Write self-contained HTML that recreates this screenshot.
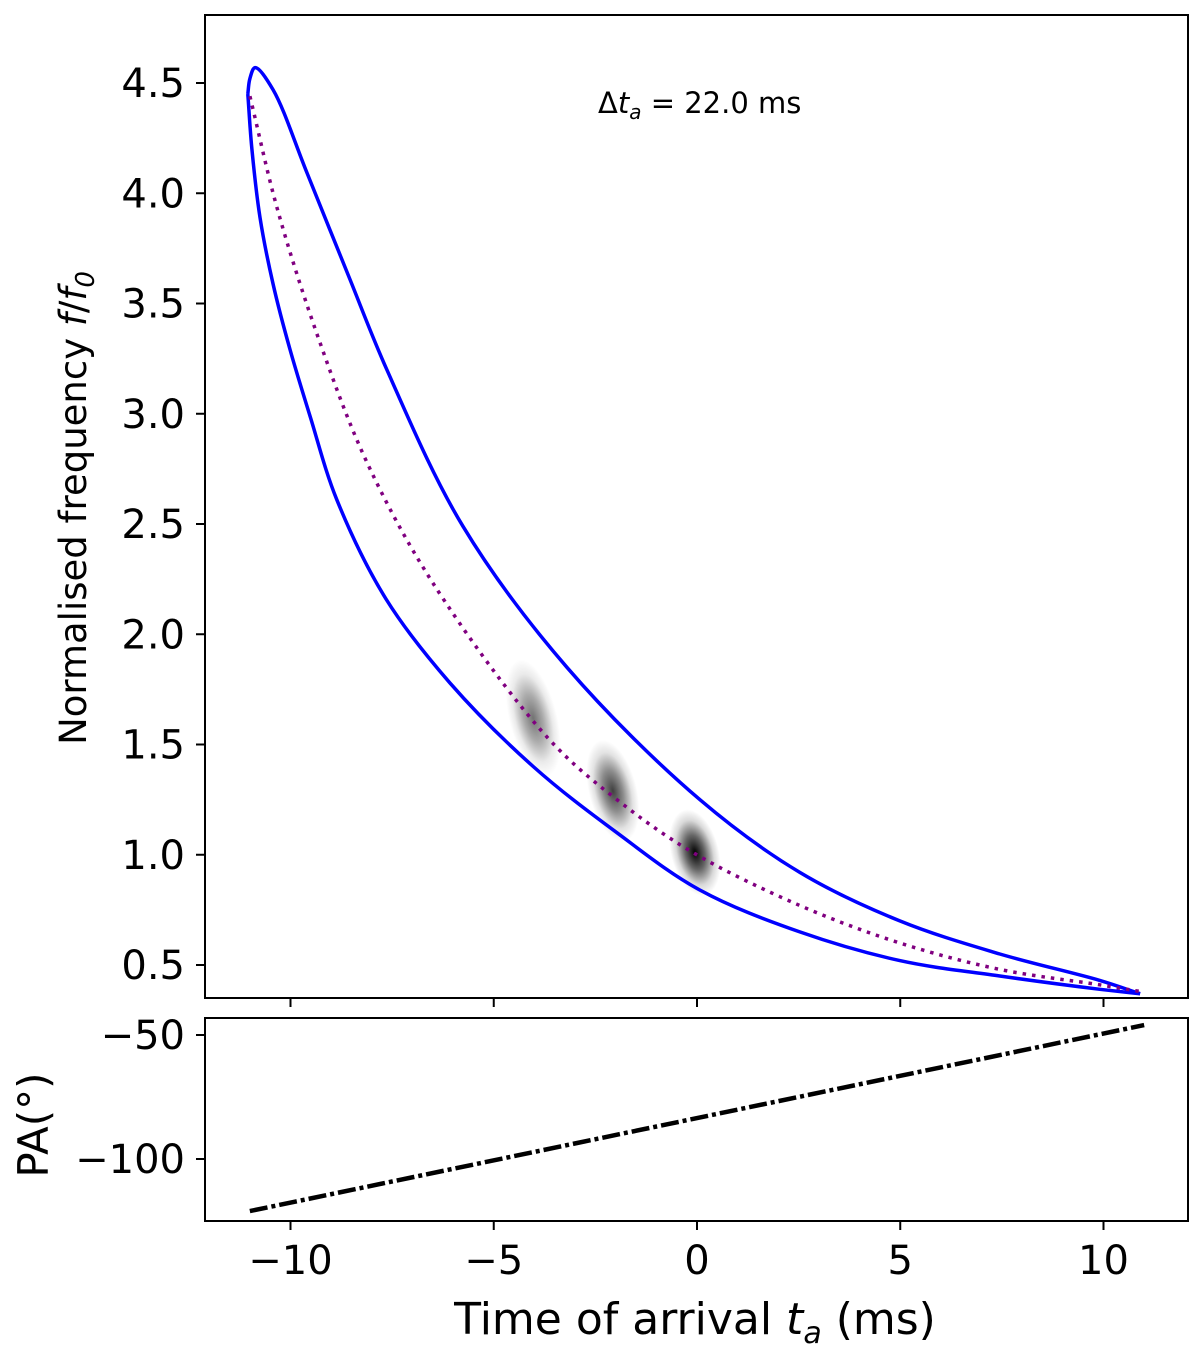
<!DOCTYPE html>
<html><head><meta charset="utf-8"><style>
html,body{margin:0;padding:0;background:#fff;}
svg{display:block;font-family:"DejaVu Sans","Liberation Sans",sans-serif;}
</style></head><body>
<svg id="chart" width="1200" height="1353" viewBox="0 0 1200 1353" xmlns="http://www.w3.org/2000/svg">
<defs>
<radialGradient id="blob" cx="0.5" cy="0.5" r="0.5">
<stop offset="0" stop-color="#000" stop-opacity="1"/>
<stop offset="0.4" stop-color="#000" stop-opacity="0.6"/>
<stop offset="0.75" stop-color="#000" stop-opacity="0.15"/>
<stop offset="1" stop-color="#000" stop-opacity="0"/>
</radialGradient>
<clipPath id="clipMain"><rect x="205" y="15" width="983" height="983"/></clipPath>
</defs>
<g id="main"></g>
<g id="pa"></g>
</svg>
<script>
const xTicks = [-10, -5, 0, 5, 10];
const fTicks = [0.5, 1.0, 1.5, 2.0, 2.5, 3.0, 3.5, 4.0, 4.5];
const paTicks = [-50, -100];
const upperT = [-11.05, -11.0, -10.87, -10.43, -9.59, -8.56, -7.63, -5.76, -3.20, 0.07, 2.53, 4.99, 7.45, 9.91, 10.90];
const upperF = [4.45, 4.52, 4.57, 4.47, 4.09, 3.62, 3.20, 2.49, 1.85, 1.25, 0.92, 0.70, 0.55, 0.43, 0.37];
const lowerT = [-11.05, -10.95, -10.75, -10.43, -10.01, -9.52, -8.86, -7.65, -6.08, -4.03, -1.97, 0.07, 2.53, 4.99, 7.45, 9.91, 10.90];
const lowerF = [4.45, 4.20, 3.89, 3.59, 3.29, 2.99, 2.61, 2.16, 1.78, 1.40, 1.10, 0.84, 0.65, 0.52, 0.45, 0.39, 0.37];
const centerT = [-11.0, -10.31, -9.27, -8.12, -6.49, -3.67, -1.97, -0.10, 2.53, 4.99, 7.45, 9.91, 10.90];
const centerF = [4.44, 3.92, 3.32, 2.78, 2.23, 1.53, 1.25, 1.01, 0.77, 0.60, 0.48, 0.41, 0.38];
const blobT = [-4.03, -2.07, -0.05];
const blobF = [1.62, 1.29, 1.01];
const blobI = [0.55, 0.75, 1.0];
const paT = [-11, 11];
const paV = [-121, -46];

const X = t => 697 + 40.65 * t;
const YF = f => 965 - (f - 0.5) * 220.5;
const YP = p => 1035 - (p + 50) * 2.48;
const NS = 'http://www.w3.org/2000/svg';
function mk(parent, tag, attrs, text) {
  const e = document.createElementNS(NS, tag);
  for (const k in attrs) e.setAttribute(k, attrs[k]);
  if (text !== undefined) e.textContent = text;
  parent.appendChild(e);
  return e;
}
function dist(a, b) { return Math.max(Math.hypot(a[0] - b[0], a[1] - b[1]), 1e-3); }
function smooth(pts) {
  const n = pts.length;
  const P = i => {
    if (i < 0) return [2 * pts[0][0] - pts[1][0], 2 * pts[0][1] - pts[1][1]];
    if (i >= n) return [2 * pts[n - 1][0] - pts[n - 2][0], 2 * pts[n - 1][1] - pts[n - 2][1]];
    return pts[i];
  };
  let d = 'M' + pts[0][0].toFixed(1) + ',' + pts[0][1].toFixed(1);
  for (let i = 0; i < n - 1; i++) {
    const p0 = P(i - 1), p1 = P(i), p2 = P(i + 1), p3 = P(i + 2);
    const d1 = dist(p0, p1), d2 = dist(p1, p2), d3 = dist(p2, p3);
    const s1 = Math.sqrt(d1), s2 = Math.sqrt(d2), s3 = Math.sqrt(d3);
    const c1 = [0, 1].map(k => (d1 * p2[k] - d2 * p0[k] + (2 * d1 + 3 * s1 * s2 + d2) * p1[k]) / (3 * s1 * (s1 + s2)));
    const c2 = [0, 1].map(k => (d3 * p1[k] - d2 * p3[k] + (2 * d3 + 3 * s3 * s2 + d2) * p2[k]) / (3 * s3 * (s3 + s2)));
    d += 'C' + c1.map(v => v.toFixed(1)).join(',') + ' ' + c2.map(v => v.toFixed(1)).join(',') + ' ' + p2[0].toFixed(1) + ',' + p2[1].toFixed(1);
  }
  return d;
}
const main = document.getElementById('main');
const pa = document.getElementById('pa');
const plot = mk(main, 'g', {'clip-path': 'url(#clipMain)'});


for (let i = 0; i < blobT.length; i++) {
  const cx = X(blobT[i]), cy = YF(blobF[i]);
  const b = mk(plot, 'ellipse', {cx: cx, cy: cy, rx: 24, ry: 60 - 8 * i, fill: 'url(#blob)', opacity: blobI[i], transform: 'rotate(-14 ' + cx + ' ' + cy + ')'});
  
  
}
const up = mk(plot, 'path', {d: smooth(upperT.map((t, i) => [X(t), YF(upperF[i])])), fill: 'none', stroke: '#0000ff', 'stroke-width': 3.5});


const lo = mk(plot, 'path', {d: smooth(lowerT.map((t, i) => [X(t), YF(lowerF[i])])), fill: 'none', stroke: '#0000ff', 'stroke-width': 3.5});


const ce = mk(plot, 'path', {d: smooth(centerT.map((t, i) => [X(t), YF(centerF[i])])), fill: 'none', stroke: '#800080', 'stroke-width': 3.5, 'stroke-dasharray': '3.5 6'});


const fr1 = mk(main, 'rect', {x: 205, y: 15, width: 983, height: 983, fill: 'none', stroke: '#000', 'stroke-width': 2});


fTicks.forEach(f => {
  const y = YF(f);
  mk(main, 'line', {x1: 196, x2: 205, y1: y, y2: y, stroke: '#000', 'stroke-width': 2});
  const t = mk(main, 'text', {x: 185, y: y + 14, 'text-anchor': 'end', 'font-size': 40}, f.toFixed(1));
  
  
});
xTicks.forEach(v => {
  mk(main, 'line', {x1: X(v), x2: X(v), y1: 998, y2: 1007, stroke: '#000', 'stroke-width': 2});
});
const ann = mk(main, 'text', {x: 598, y: 113, 'font-size': 29});


ann.innerHTML = 'Δ<tspan font-style="italic">t</tspan><tspan font-size="20" dy="6" font-style="italic">a</tspan><tspan dy="-6"> = 22.0 ms</tspan>';
const yl = mk(main, 'text', {x: 0, y: 0, 'font-size': 37, 'text-anchor': 'middle', transform: 'translate(86,508) rotate(-90)'});


yl.innerHTML = 'Normalised frequency <tspan font-style="italic">f</tspan>/<tspan font-style="italic">f</tspan><tspan font-size="26" dy="8" font-style="italic">0</tspan>';

// PA panel
const fr2 = mk(pa, 'rect', {x: 205, y: 1018, width: 983, height: 203, fill: 'none', stroke: '#000', 'stroke-width': 2});


const pl = mk(pa, 'line', {x1: X(paT[0]), y1: YP(paV[0]), x2: X(paT[1]), y2: YP(paV[1]), stroke: '#000', 'stroke-width': 4.5, 'stroke-dasharray': '18 4 4 4'});


paTicks.forEach(p => {
  const y = YP(p);
  mk(pa, 'line', {x1: 196, x2: 205, y1: y, y2: y, stroke: '#000', 'stroke-width': 2});
  const t = mk(pa, 'text', {x: 185, y: y + 14, 'text-anchor': 'end', 'font-size': 40}, '\u2212' + Math.abs(p));
  
  
});
xTicks.forEach(v => {
  mk(pa, 'line', {x1: X(v), x2: X(v), y1: 1221, y2: 1230, stroke: '#000', 'stroke-width': 2});
  const t = mk(pa, 'text', {x: X(v), y: 1274, 'text-anchor': 'middle', 'font-size': 40}, (v < 0 ? '\u2212' : '') + Math.abs(v));
  
  
});
const pal = mk(pa, 'text', {x: 0, y: 0, 'font-size': 42, 'text-anchor': 'middle', transform: 'translate(48,1125) rotate(-90)'}, 'PA(°)');


const xl = mk(pa, 'text', {x: 695, y: 1334, 'font-size': 44, 'text-anchor': 'middle'});


xl.innerHTML = 'Time of arrival <tspan font-style="italic">t</tspan><tspan font-size="30" dy="9" font-style="italic">a</tspan><tspan dy="-9"> (ms)</tspan>';
</script>
</body></html>
